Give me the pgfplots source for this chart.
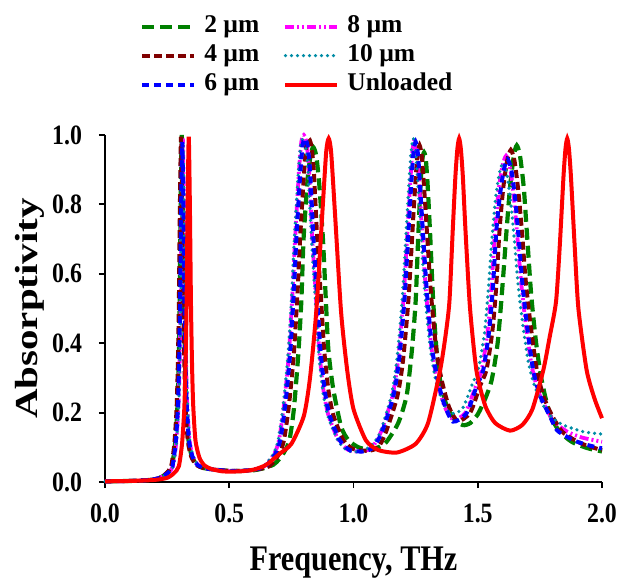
\documentclass[border=0pt]{standalone}
\usepackage{fontspec}
\setmainfont{Liberation Serif}
\newfontfamily\tickfont{Liberation Serif}[FakeStretch=0.85]
\newfontfamily\xlabfont{Liberation Serif}[FakeStretch=0.84]
\newfontfamily\ylabfont{Liberation Serif}[FakeStretch=1.28]
\usepackage{pgfplots}
\pgfplotsset{compat=1.18}
\definecolor{cgreen}{RGB}{0,128,0}
\definecolor{cbrown}{RGB}{128,0,0}
\definecolor{cblue}{RGB}{0,0,255}
\definecolor{cmag}{RGB}{255,0,255}
\definecolor{cteal}{RGB}{0,140,165}
\definecolor{cred}{RGB}{255,0,0}
\begin{document}
\begin{tikzpicture}
\begin{axis}[
  scale only axis, width=248.5pt, height=173.5pt,
  xmin=0, xmax=2, ymin=0, ymax=1,
  axis lines*=left,
  axis line style={line width=0.9pt, black},
  tick align=outside, major tick length=3pt,
  tick style={line width=0.9pt, black},
  xtick={0,0.5,1,1.5,2}, ytick={0,0.2,0.4,0.6,0.8,1},
  /pgf/number format/.cd, fixed, fixed zerofill, precision=1, assume math mode=true, /pgfplots/.cd,
  xticklabel style={font=\fontsize{14}{14}\tickfont\bfseries, yshift=-4.5pt},
  yticklabel style={font=\fontsize{14}{14}\tickfont\bfseries, xshift=-5pt},
  xlabel={Frequency, THz}, ylabel={Absorptivity},
  every axis x label/.style={at={(axis description cs:0.5,0)}, anchor=base, yshift=-44pt, font=\fontsize{18}{18}\xlabfont\bfseries},
  every axis y label/.style={at={(axis description cs:-0.151,0.5)}, anchor=center, rotate=90, font=\fontsize{16}{16}\ylabfont\bfseries},
  clip=false,
  legend columns=2,
  legend cell align=left,
  legend style={draw=none, fill=none, at={(axis description cs:0.07,1.348)}, anchor=north west,
    font=\fontsize{12.75}{13}\bfseries, inner sep=0pt, row sep=2.5pt,
    nodes={inner xsep=4pt, inner ysep=0pt, text height=9pt, text depth=3pt},
    /tikz/every even column/.append style={column sep=8pt}},
  legend image code/.code={\draw[#1] (0pt,0pt) -- (26pt,0pt);},
  every axis plot/.append style={smooth, tension=0.4, no markers},
]
% 2 um
\addplot[cgreen, line width=2.1pt, dash pattern=on 6pt off 3pt] coordinates {
(0,0.002)(0.1,0.003)(0.18,0.006)(0.22,0.012)(0.249,0.025)(0.269,0.045)(0.282,0.11)(0.291,0.21)(0.2955,0.32)(0.300,0.50)(0.3045,0.80)(0.309,1.0)(0.3135,0.80)(0.318,0.51)(0.3225,0.33)(0.327,0.22)(0.336,0.12)(0.349,0.075)(0.369,0.05)(0.399,0.04)(0.45,0.035)(0.50,0.032)(0.55,0.032)(0.60,0.034)(0.64,0.04)(0.678,0.05)(0.70,0.065)(0.72,0.085)(0.742,0.12)(0.76,0.21)(0.778,0.37)(0.79,0.52)(0.799,0.70)(0.815,0.87)(0.827,0.94)(0.838,0.965)(0.85,0.94)(0.862,0.86)(0.877,0.70)(0.889,0.52)(0.899,0.38)(0.918,0.27)(0.95,0.16)(0.98,0.12)(1.02,0.10)(1.06,0.094)(1.10,0.10)(1.133,0.116)(1.18,0.17)(1.214,0.25)(1.235,0.38)(1.25,0.52)(1.26,0.70)(1.27,0.86)(1.277,0.93)(1.284,0.95)(1.291,0.93)(1.298,0.86)(1.308,0.72)(1.32,0.53)(1.333,0.39)(1.348,0.295)(1.37,0.23)(1.40,0.185)(1.44,0.164)(1.47,0.17)(1.50,0.195)(1.53,0.24)(1.556,0.294)(1.58,0.40)(1.60,0.57)(1.616,0.726)(1.63,0.85)(1.645,0.94)(1.657,0.97)(1.67,0.94)(1.685,0.85)(1.697,0.726)(1.715,0.54)(1.735,0.40)(1.757,0.294)(1.79,0.195)(1.83,0.145)(1.88,0.115)(1.94,0.098)(2.0,0.088)
};
\addlegendentry{2 µm}
% 8 um
\addplot[cmag, line width=1.9pt, dash pattern=on 4.5pt off 1.5pt on 1pt off 1.5pt on 1pt off 1.5pt] coordinates {
(0,0.002)(0.1,0.003)(0.18,0.006)(0.22,0.012)(0.253,0.025)(0.273,0.045)(0.286,0.11)(0.295,0.21)(0.2995,0.32)(0.304,0.50)(0.3085,0.80)(0.313,0.99)(0.3175,0.80)(0.322,0.51)(0.3265,0.33)(0.331,0.22)(0.340,0.12)(0.353,0.075)(0.373,0.05)(0.403,0.04)(0.45,0.035)(0.50,0.032)(0.55,0.032)(0.60,0.036)(0.64,0.045)(0.68,0.08)(0.70,0.12)(0.72,0.22)(0.74,0.37)(0.755,0.55)(0.765,0.70)(0.78,0.89)(0.79,0.98)(0.80,1.0)(0.81,0.98)(0.82,0.91)(0.834,0.70)(0.85,0.52)(0.862,0.38)(0.88,0.26)(0.90,0.19)(0.94,0.12)(0.98,0.092)(1.035,0.088)(1.075,0.10)(1.111,0.145)(1.156,0.246)(1.1785,0.346)(1.201,0.525)(1.2235,0.804)(1.236,0.946)(1.246,0.99)(1.256,0.946)(1.2685,0.81)(1.291,0.555)(1.3135,0.388)(1.336,0.294)(1.365,0.22)(1.40,0.18)(1.449,0.198)(1.489,0.27)(1.516,0.323)(1.539,0.43)(1.554,0.55)(1.569,0.72)(1.584,0.84)(1.599,0.91)(1.614,0.94)(1.629,0.91)(1.644,0.83)(1.659,0.71)(1.674,0.58)(1.694,0.45)(1.717,0.335)(1.744,0.26)(1.784,0.20)(1.814,0.17)(1.86,0.145)(1.92,0.128)(2.0,0.116)
};
\addlegendentry{8 µm}
% 4 um
\addplot[cbrown, line width=2pt, dash pattern=on 4pt off 2pt] coordinates {
(0,0.002)(0.1,0.003)(0.18,0.006)(0.22,0.012)(0.246,0.025)(0.266,0.045)(0.279,0.11)(0.288,0.21)(0.2925,0.32)(0.297,0.50)(0.3015,0.80)(0.306,0.995)(0.3105,0.80)(0.315,0.51)(0.3195,0.33)(0.324,0.22)(0.333,0.12)(0.346,0.075)(0.366,0.05)(0.396,0.04)(0.45,0.035)(0.50,0.032)(0.55,0.032)(0.60,0.035)(0.66,0.045)(0.70,0.08)(0.72,0.12)(0.74,0.22)(0.76,0.37)(0.775,0.55)(0.785,0.70)(0.80,0.88)(0.81,0.97)(0.82,0.99)(0.83,0.97)(0.84,0.90)(0.854,0.70)(0.87,0.52)(0.882,0.38)(0.90,0.26)(0.92,0.19)(0.96,0.12)(1.00,0.095)(1.06,0.09)(1.10,0.10)(1.131,0.145)(1.176,0.246)(1.1985,0.346)(1.221,0.525)(1.2435,0.80)(1.256,0.93)(1.266,0.97)(1.276,0.93)(1.2885,0.80)(1.311,0.55)(1.3335,0.38)(1.356,0.29)(1.385,0.215)(1.42,0.175)(1.47,0.20)(1.508,0.275)(1.535,0.323)(1.558,0.43)(1.573,0.55)(1.588,0.73)(1.603,0.85)(1.618,0.925)(1.633,0.957)(1.648,0.925)(1.663,0.84)(1.678,0.72)(1.693,0.58)(1.713,0.45)(1.736,0.33)(1.763,0.25)(1.80,0.19)(1.84,0.145)(1.88,0.125)(1.92,0.11)(1.96,0.10)(2.0,0.092)
};
\addlegendentry{4 µm}
% 10 um
\addplot[cteal, line width=1.8pt, line cap=round, dash pattern=on 0pt off 3pt] coordinates {
(0,0.002)(0.1,0.003)(0.18,0.006)(0.22,0.012)(0.254,0.025)(0.274,0.045)(0.287,0.11)(0.296,0.21)(0.3005,0.32)(0.305,0.50)(0.3095,0.80)(0.314,0.98)(0.3185,0.80)(0.323,0.51)(0.3275,0.33)(0.332,0.22)(0.341,0.12)(0.354,0.075)(0.374,0.05)(0.404,0.04)(0.45,0.035)(0.50,0.032)(0.55,0.032)(0.60,0.036)(0.637,0.045)(0.677,0.08)(0.697,0.12)(0.717,0.22)(0.737,0.37)(0.752,0.55)(0.762,0.70)(0.777,0.88)(0.787,0.97)(0.797,0.99)(0.807,0.97)(0.817,0.90)(0.831,0.70)(0.847,0.52)(0.859,0.38)(0.877,0.26)(0.897,0.19)(0.937,0.12)(0.977,0.09)(1.03,0.088)(1.07,0.105)(1.106,0.14)(1.151,0.246)(1.1735,0.346)(1.196,0.525)(1.2185,0.804)(1.231,0.946)(1.241,0.99)(1.251,0.946)(1.2635,0.81)(1.286,0.555)(1.3085,0.388)(1.331,0.294)(1.36,0.23)(1.39,0.198)(1.437,0.21)(1.477,0.28)(1.504,0.33)(1.527,0.43)(1.542,0.55)(1.557,0.70)(1.572,0.82)(1.587,0.89)(1.602,0.92)(1.617,0.89)(1.632,0.81)(1.647,0.70)(1.662,0.57)(1.682,0.45)(1.705,0.34)(1.732,0.27)(1.772,0.21)(1.80,0.185)(1.845,0.164)(1.925,0.145)(2.0,0.138)
};
\addlegendentry{10 µm}
% 6 um
\addplot[cblue, line width=2pt, dash pattern=on 3.5pt off 2.5pt] coordinates {
(0,0.002)(0.1,0.003)(0.18,0.006)(0.22,0.012)(0.251,0.025)(0.271,0.045)(0.284,0.11)(0.293,0.21)(0.2975,0.32)(0.302,0.50)(0.3065,0.80)(0.311,0.98)(0.3155,0.80)(0.320,0.51)(0.3245,0.33)(0.329,0.22)(0.338,0.12)(0.351,0.075)(0.371,0.05)(0.401,0.04)(0.45,0.035)(0.50,0.032)(0.55,0.032)(0.60,0.036)(0.645,0.045)(0.685,0.08)(0.705,0.12)(0.725,0.22)(0.745,0.37)(0.76,0.55)(0.77,0.70)(0.785,0.88)(0.795,0.97)(0.805,0.99)(0.815,0.97)(0.825,0.90)(0.839,0.70)(0.855,0.52)(0.867,0.38)(0.885,0.26)(0.905,0.19)(0.945,0.12)(0.985,0.092)(1.04,0.088)(1.08,0.10)(1.115,0.145)(1.16,0.246)(1.1825,0.346)(1.205,0.525)(1.2275,0.80)(1.24,0.94)(1.25,0.98)(1.26,0.94)(1.2725,0.80)(1.295,0.55)(1.3175,0.38)(1.34,0.29)(1.365,0.225)(1.40,0.174)(1.455,0.198)(1.495,0.275)(1.522,0.323)(1.545,0.43)(1.56,0.55)(1.575,0.726)(1.59,0.83)(1.605,0.90)(1.62,0.93)(1.635,0.90)(1.65,0.82)(1.665,0.70)(1.68,0.57)(1.70,0.44)(1.723,0.323)(1.75,0.25)(1.79,0.19)(1.818,0.15)(1.86,0.13)(1.90,0.116)(1.95,0.105)(2.0,0.097)
};
\addlegendentry{6 µm}
% Unloaded
\addplot[cred, line width=2pt] coordinates {
(0,0.002)(0.1,0.003)(0.2,0.006)(0.25,0.012)(0.277,0.025)(0.297,0.045)(0.31,0.11)(0.319,0.21)(0.3235,0.32)(0.328,0.50)(0.3325,0.80)(0.337,0.995)(0.3415,0.80)(0.346,0.51)(0.3505,0.33)(0.355,0.22)(0.364,0.12)(0.38,0.07)(0.40,0.048)(0.43,0.037)(0.47,0.031)(0.50,0.03)(0.55,0.031)(0.60,0.036)(0.65,0.05)(0.70,0.08)(0.75,0.11)(0.80,0.19)(0.825,0.30)(0.85,0.49)(0.875,0.78)(0.89,0.95)(0.90,0.99)(0.91,0.95)(0.925,0.78)(0.95,0.49)(0.975,0.32)(1.00,0.21)(1.05,0.12)(1.10,0.092)(1.175,0.085)(1.25,0.11)(1.30,0.17)(1.348,0.32)(1.37,0.42)(1.386,0.52)(1.399,0.72)(1.41,0.88)(1.418,0.96)(1.425,0.99)(1.432,0.96)(1.44,0.88)(1.451,0.72)(1.469,0.50)(1.495,0.32)(1.53,0.22)(1.57,0.17)(1.63,0.148)(1.68,0.165)(1.72,0.21)(1.764,0.323)(1.79,0.42)(1.815,0.52)(1.83,0.68)(1.845,0.88)(1.853,0.96)(1.86,0.99)(1.867,0.96)(1.875,0.88)(1.89,0.68)(1.905,0.50)(1.938,0.323)(1.97,0.24)(2.0,0.184)
};
\addlegendentry{Unloaded}
\end{axis}
\pgfresetboundingbox
\path (-52.5pt,-48pt) rectangle (259.5pt,241pt);
\end{tikzpicture}
\end{document}
